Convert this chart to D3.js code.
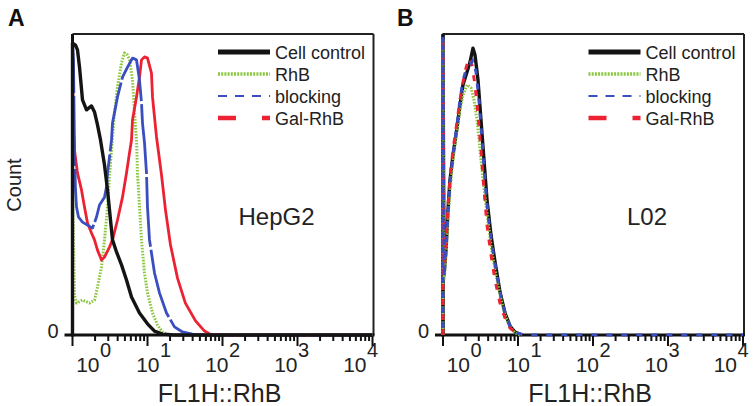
<!DOCTYPE html>
<html><head><meta charset="utf-8">
<script src="https://cdn.jsdelivr.net/npm/d3@7"></script>
<style>html,body{margin:0;padding:0;background:#fff;} svg{display:block;font-family:"Liberation Sans",Arial,Helvetica,sans-serif;}</style>
</head><body><svg id="c" width="756" height="406"></svg>
<script>
// ---------- data ----------
const seriesNames = ["Cell control", "RhB", "blocking", "Gal-RhB"];
const decades = [0, 1, 2, 3, 4];          // tick labels 10^k
const panelLetters = ["A", "B"];
const cellLines = ["HepG2", "L02"];
const xTitle = "FL1H::RhB";
const yTitle = "Count";
const yZeroLabel = "0";

// Panel A (HepG2): [fluorescence, count % of max]
const hepCellControl = [[1,0],[1,97.0],[1.096,96.3],[1.166,94.7],[1.240,89.0],[1.359,78.1],[1.537,74.8],[1.792,76.1],[1.965,74.1],[2.154,69.8],[2.362,64.8],[2.671,56.5],[2.929,48.2],[3.211,38.2],[3.415,31.6],[3.861,27.6],[4.502,23.3],[5.248,18.3],[6.119,12.6],[7.822,7.3],[10,3.7],[12.4,1.3],[15.85,0.3],[22.9,0],[10000,0]];
const hepRhB = [[1,0],[1,49.8],[1.063,13.3],[1.131,10.6],[1.359,11.6],[1.685,10.6],[1.965,11.6],[2.154,15.9],[2.436,22.6],[2.671,31.6],[2.929,42.5],[3.114,53.2],[3.311,61.5],[3.631,73.8],[3.981,82.4],[4.502,90.4],[4.936,93.7],[5.412,93.0],[5.754,91.4],[6.310,84.7],[6.709,73.8],[7.134,64.8],[7.356,53.8],[7.822,42.5],[8.318,31.6],[9.120,20.6],[10,14.0],[11.66,7.3],[13.59,3.3],[15.85,1.0],[19.65,0],[10000,0]];
const hepBlocking = [[1,0],[1,97.0],[1.031,91.4],[1.063,61.5],[1.096,48.2],[1.131,42.5],[1.202,39.2],[1.359,37.5],[1.585,36.5],[1.848,35.5],[2.090,39.2],[2.291,43.2],[2.671,45.8],[2.840,49.2],[2.929,53.8],[3.114,59.1],[3.311,64.8],[3.415,70.4],[3.981,79.1],[4.642,85.7],[5.412,89.0],[6.310,92.0],[7.134,91.4],[7.822,84.7],[8.318,77.1],[8.577,70.4],[9.120,63.8],[9.698,53.8],[10,42.5],[10.63,31.6],[12.4,20.6],[14.45,14.0],[17.92,7.3],[22.9,2.7],[29.3,1.0],[39.8,0.3],[49.8,0],[10000,0]];
const hepGalRhB = [[1,0],[1,88.0],[1.031,68.1],[1.063,61.5],[1.166,53.8],[1.318,48.2],[1.445,42.5],[1.585,37.2],[1.792,33.9],[1.965,31.6],[2.154,28.2],[2.436,24.9],[2.671,25.9],[3.114,29.2],[3.415,31.6],[3.981,38.2],[4.642,45.8],[5.248,53.8],[5.754,60.5],[6.119,64.8],[6.310,71.4],[7.134,79.1],[7.822,85.7],[8.318,91.4],[9.120,92.4],[10,92.0],[11.3,87.0],[11.66,79.1],[12.4,72.4],[13.18,65.8],[14.02,60.8],[15.37,53.2],[17.38,41.5],[20.26,29.9],[25.12,18.9],[32.0,10.6],[43.7,4.7],[57.6,1.3],[71.2,0],[10000,0]];

// Panel B (L02)
const l02CellControl = [[1,0],[1,99.7],[1.031,19.9],[1.096,28.2],[1.166,41.5],[1.240,51.5],[1.359,59.8],[1.537,68.8],[1.685,76.4],[1.848,83.1],[2.090,87.4],[2.291,90.7],[2.512,95.3],[2.671,93.0],[2.929,84.7],[3.211,71.4],[3.521,58.1],[3.861,44.9],[4.365,33.2],[4.936,24.3],[5.754,14.3],[6.709,7.3],[7.822,3.0],[9.120,1.0],[11.29,0]];
const l02RhB = [[1,0],[1,98.3],[1.031,18.3],[1.096,26.6],[1.166,38.2],[1.240,48.2],[1.359,58.1],[1.537,68.1],[1.685,74.8],[1.848,79.7],[2.090,83.1],[2.362,82.1],[2.590,78.1],[2.840,71.4],[3.114,61.5],[3.415,51.5],[3.861,40.5],[4.365,29.9],[4.936,21.6],[5.754,13.3],[6.709,6.6],[7.822,2.7],[9.120,0.7],[10.63,0]];
const l02Blocking = [[1,0],[1,99.3],[1.031,18.9],[1.096,28.2],[1.166,40.9],[1.240,50.8],[1.359,59.8],[1.537,69.8],[1.685,78.1],[1.848,84.7],[2.026,88.0],[2.291,89.4],[2.512,91.4],[2.754,87.4],[3.020,78.1],[3.311,64.8],[3.631,51.5],[3.981,39.9],[4.502,29.9],[5.09,21.6],[5.934,12.6],[6.918,6.3],[8.066,2.3],[9.698,0.7],[12.02,0],[10000,0]];
const l02GalRhB = [[1,0],[1,98.7],[1.031,20.9],[1.096,29.9],[1.166,43.2],[1.240,52.2],[1.359,61.5],[1.537,70.8],[1.685,78.1],[1.848,84.1],[2.026,88.7],[2.222,92.0],[2.436,89.7],[2.671,83.1],[2.929,73.1],[3.211,61.5],[3.521,48.2],[3.861,36.5],[4.365,26.6],[4.936,18.3],[5.754,10.6],[6.709,5.6],[7.822,2.3],[9.405,0.7],[11.29,0]];

// ---------- drawing ----------
const svg = d3.select("#c");
const colors = {"Cell control":"#141414","RhB":"#8cc63f","blocking":"#3a4ec0","Gal-RhB":"#ec2233"};
const plotTop = 34, plotBottom = 335, plotW = 300;

const panels = [
  {letter: panelLetters[0], cell: cellLines[0], left: 72.5,
   series: {"Cell control": hepCellControl, "RhB": hepRhB, "blocking": hepBlocking, "Gal-RhB": hepGalRhB},
   order: ["RhB","Gal-RhB","blocking","Cell control"],
   style: {"Cell control":{w:3.4,d:null,o:0},"RhB":{w:3,d:"1.6,1.4",o:0},"blocking":{w:2.8,d:"70,3",o:20},"Gal-RhB":{w:2.8,d:null,o:0}}},
  {letter: panelLetters[1], cell: cellLines[1], left: 443,
   series: {"Cell control": l02CellControl, "RhB": l02RhB, "blocking": l02Blocking, "Gal-RhB": l02GalRhB},
   order: ["Cell control","RhB","Gal-RhB","blocking"],
   style: {"Cell control":{w:3.4,d:null,o:0},"RhB":{w:3,d:"1.6,1.4",o:0},"blocking":{w:3,d:"6,9",o:8},"Gal-RhB":{w:3,d:"6,9",o:0}}}
];

const legendStyle = {"Cell control":{w:5,d:null},"RhB":{w:3.5,d:"2,1.2"},"blocking":{w:2.2,d:"9,8"},"Gal-RhB":{w:4.5,d:"18,26"}};

const labelOff = d3.scaleLinear().domain([0,1,4]).range([27,12,-6]);

panels.forEach((p, pi) => {
  const x = d3.scaleLog().domain([1, 1e4]).range([p.left, p.left + plotW]);
  const y = d3.scaleLinear().domain([0, 100]).range([plotBottom, plotTop]);
  const right = p.left + plotW + 1;
  const g = svg.append("g");

  // frame
  g.append("line").attr("x1",p.left).attr("x2",right).attr("y1",plotTop).attr("y2",plotTop).attr("stroke","#222").attr("stroke-width",1.8);
  g.append("line").attr("x1",right).attr("x2",right).attr("y1",plotTop).attr("y2",plotBottom).attr("stroke","#222").attr("stroke-width",2);
  g.append("line").attr("x1",p.left).attr("x2",p.left).attr("y1",plotTop).attr("y2",plotBottom+1.5).attr("stroke","#111").attr("stroke-width",3);
  g.append("line").attr("x1",p.left-8).attr("x2",right+1).attr("y1",plotBottom).attr("y2",plotBottom).attr("stroke","#111").attr("stroke-width",3);

  // curves
  const line = d3.line().x(d => x(d[0])).y(d => y(d[1]));
  p.order.forEach(name => {
    const s = p.style[name];
    g.append("path").attr("d", line(p.series[name]))
      .attr("fill","none").attr("stroke", colors[name]).attr("stroke-width", s.w)
      .attr("stroke-linejoin","round")
      .attr("stroke-dasharray", s.d).attr("stroke-dashoffset", s.o);
  });

  // ticks
  const allTicks = x.ticks();
  allTicks.forEach(t => {
    const major = Math.abs(Math.log10(t) - Math.round(Math.log10(t))) < 1e-9;
    g.append("line").attr("x1",x(t)).attr("x2",x(t)).attr("y1",plotBottom+1).attr("y2",plotBottom + (major?11:6))
      .attr("stroke","#111").attr("stroke-width",2);
  });

  // tick labels 10^k
  decades.forEach(k => {
    const xr = x(Math.pow(10,k)) + labelOff(k);
    g.append("text").attr("x",xr).attr("y",372).attr("text-anchor","end")
      .attr("font-size",21).attr("fill","#222").text("10");
    g.append("text").attr("x",xr+0.5).attr("y",357).attr("text-anchor","start")
      .attr("font-size",20).attr("fill","#222").text(String(k));
  });

  // zero label
  g.append("text").attr("x",p.left-14).attr("y",y(0)+2.5).attr("text-anchor","end")
    .attr("font-size",20).attr("fill","#222").text(yZeroLabel);

  // x title
  g.append("text").attr("x",p.left + plotW*0.49).attr("y",402).attr("text-anchor","middle")
    .attr("font-size",25).attr("fill","#222").text(xTitle);

  // cell line label
  g.append("text").attr("x",p.left + plotW*0.68).attr("y",225).attr("text-anchor","middle")
    .attr("font-size",24).attr("fill","#222").text(p.cell);

  // panel letter
  g.append("text").attr("x", pi===0 ? 8 : 397).attr("y",26).attr("font-size",23)
    .attr("font-weight","bold").attr("fill","#111").text(p.letter);

  // legend
  const lx0 = p.left + 145.5, lx1 = lx0 + 52;
  seriesNames.forEach((name, i) => {
    const ly = 52 + i*22;
    const s = legendStyle[name];
    g.append("line").attr("x1",lx0).attr("x2",lx1).attr("y1",ly).attr("y2",ly)
      .attr("stroke",colors[name]).attr("stroke-width",s.w).attr("stroke-dasharray",s.d);
    g.append("text").attr("x",lx1+5).attr("y",ly+6.5).attr("font-size",18).attr("fill","#222").text(name);
  });
});

// y title
svg.append("text").attr("transform","translate(21,185) rotate(-90)").attr("text-anchor","middle")
  .attr("font-size",20).attr("fill","#222").text(yTitle);
</script>
</body></html>
